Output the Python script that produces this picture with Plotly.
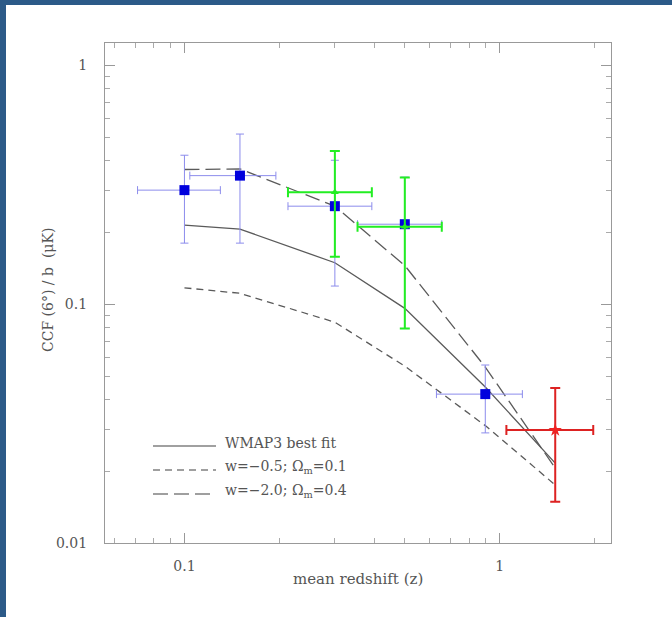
import plotly.graph_objects as go

# ---------------- data ----------------
# blue squares
blue_x = [0.1, 0.15, 0.3, 0.5, 0.9]
blue_y = [0.30, 0.345, 0.257, 0.216, 0.042]
blue_y_hi = [0.42, 0.515, 0.40, 0.34, 0.0556]
blue_y_lo = [0.18, 0.18, 0.119, 0.079, 0.0289]
blue_x_lo = [0.071, 0.104, 0.213, 0.354, 0.63]
blue_x_hi = [0.130, 0.195, 0.393, 0.655, 1.18]

# green points
green_x = [0.3, 0.5]
green_y = [0.294, 0.211]
green_y_hi = [0.437, 0.339]
green_y_lo = [0.158, 0.079]
green_x_lo = [0.213, 0.354]
green_x_hi = [0.393, 0.655]

# red point
red_x = [1.5]
red_y = [0.0297]
red_y_hi = [0.0446]
red_y_lo = [0.0149]
red_x_lo = [1.05]
red_x_hi = [1.98]

# model curves
model_x = [0.1, 0.15, 0.3, 0.5, 0.9, 1.5]
wmap3_y = [0.214, 0.206, 0.149, 0.096, 0.045, 0.0216]
w05_y = [0.117, 0.111, 0.084, 0.055, 0.031, 0.0175]
w20_y = [0.366, 0.368, 0.257, 0.145, 0.0545, 0.0206]

legend_labels = ["WMAP3 best fit",
                 "w=\u22120.5; \u03a9<sub>m</sub>=0.1",
                 "w=\u22122.0; \u03a9<sub>m</sub>=0.4"]
legend_dashes = ["solid", "7px,5px", "15px,6px"]

x_title = "mean redshift (z)"
y_title = "CCF (6\u00b0) / b\u00a0\u00a0(\u03bcK)"

# ---------------- figure ----------------
W, H = 672, 617
ML, MR, MT, MB = 105, 61, 43, 74
PW, PH = W - ML - MR, H - MT - MB

GRAY = "#555555"
FONT = "DejaVu Serif"

def err(vals, ref, hi=True):
    return [(v - r) if hi else (r - v) for v, r in zip(vals, ref)]

fig = go.Figure()

line_col = "#5a5a5a"
for ys, dash in zip([wmap3_y, w05_y, w20_y], legend_dashes):
    fig.add_trace(go.Scatter(x=model_x, y=ys, mode="lines",
                             line=dict(color=line_col, width=1.3, dash=dash),
                             showlegend=False, hoverinfo="skip"))

fig.add_trace(go.Scatter(
    x=blue_x, y=blue_y, mode="markers",
    marker=dict(symbol="square", size=10, color="#0000dd"),
    error_y=dict(type="data", array=err(blue_y_hi, blue_y), arrayminus=err(blue_y_lo, blue_y, False),
                 color="#8c8cec", thickness=1, width=4),
    error_x=dict(type="data", array=err(blue_x_hi, blue_x), arrayminus=err(blue_x_lo, blue_x, False),
                 color="#8c8cec", thickness=1, width=4),
    showlegend=False))

fig.add_trace(go.Scatter(
    x=green_x, y=green_y, mode="markers",
    marker=dict(symbol="triangle-up", size=7, color="#22ee22"),
    error_y=dict(type="data", array=err(green_y_hi, green_y), arrayminus=err(green_y_lo, green_y, False),
                 color="#22ee22", thickness=2, width=5),
    error_x=dict(type="data", array=err(green_x_hi, green_x), arrayminus=err(green_x_lo, green_x, False),
                 color="#22ee22", thickness=2, width=5),
    showlegend=False))

fig.add_trace(go.Scatter(
    x=red_x, y=red_y, mode="markers",
    marker=dict(symbol="star", size=10, color="#ee2222"),
    error_y=dict(type="data", array=err(red_y_hi, red_y), arrayminus=err(red_y_lo, red_y, False),
                 color="#dd2222", thickness=2, width=5),
    error_x=dict(type="data", array=err(red_x_hi, red_x), arrayminus=err(red_x_lo, red_x, False),
                 color="#dd2222", thickness=2, width=5),
    showlegend=False))

axis_common = dict(
    type="log", showgrid=False, zeroline=False,
    showline=True, linecolor="#999999", linewidth=1.3, mirror="ticks",
    ticks="inside", ticklen=10, tickcolor="#999999", tickwidth=1,
    dtick=1,
    tickfont=dict(family=FONT, size=14, color=GRAY),
    minor=dict(ticks="inside", ticklen=5, tickcolor="#aaaaaa", dtick="D1", showgrid=False),
)

fig.update_xaxes(range=[-1.252, 0.353], ticklabelstandoff=10, **axis_common)
fig.update_yaxes(range=[-2.0, 0.093], ticklabelstandoff=14, **axis_common)

def px2paper(px, py):
    return (px - ML) / PW, (H - MB - py) / PH

shapes = []
annotations = []
# legend
rows = [446, 470, 494]
for lab, dash, ry in zip(legend_labels, legend_dashes, rows):
    x0, y0 = px2paper(153, ry)
    x1, _ = px2paper(216, ry)
    shapes.append(dict(type="line", xref="paper", yref="paper", x0=x0, x1=x1, y0=y0, y1=y0,
                       line=dict(color="#808080", width=1.3, dash=dash)))
    tx, ty = px2paper(223, ry - 3)
    annotations.append(dict(xref="paper", yref="paper", x=tx, y=ty, text=lab, showarrow=False,
                            xanchor="left", yanchor="middle",
                            font=dict(family=FONT, size=14, color=GRAY)))

ax, ay = px2paper(358, 579)
annotations.append(dict(xref="paper", yref="paper", x=ax, y=ay, text=x_title, showarrow=False,
                        xanchor="center", yanchor="middle",
                        font=dict(family=FONT, size=15, color=GRAY)))
ax, ay = px2paper(48, 290)
annotations.append(dict(xref="paper", yref="paper", x=ax, y=ay, text=y_title, showarrow=False,
                        xanchor="center", yanchor="middle", textangle=-90,
                        font=dict(family=FONT, size=14, color=GRAY)))

# blue frame at top and left edge
BLUE = "#2c5a88"
x0, _ = px2paper(0, 0)
x1, _ = px2paper(6, 0)
_, yb = px2paper(0, H)
_, yt = px2paper(0, 0)
shapes.append(dict(type="rect", xref="paper", yref="paper", x0=x0, x1=x1, y0=yb, y1=yt,
                   fillcolor=BLUE, line=dict(width=0), layer="above"))
xr, _ = px2paper(W, 0)
_, yt5 = px2paper(0, 5)
shapes.append(dict(type="rect", xref="paper", yref="paper", x0=x0, x1=xr, y0=yt5, y1=yt,
                   fillcolor=BLUE, line=dict(width=0), layer="above"))

fig.update_layout(
    width=W, height=H,
    margin=dict(l=ML, r=MR, t=MT, b=MB),
    paper_bgcolor="white", plot_bgcolor="white",
    shapes=shapes, annotations=annotations,
    showlegend=False,
)

fig.write_html("out.html")
